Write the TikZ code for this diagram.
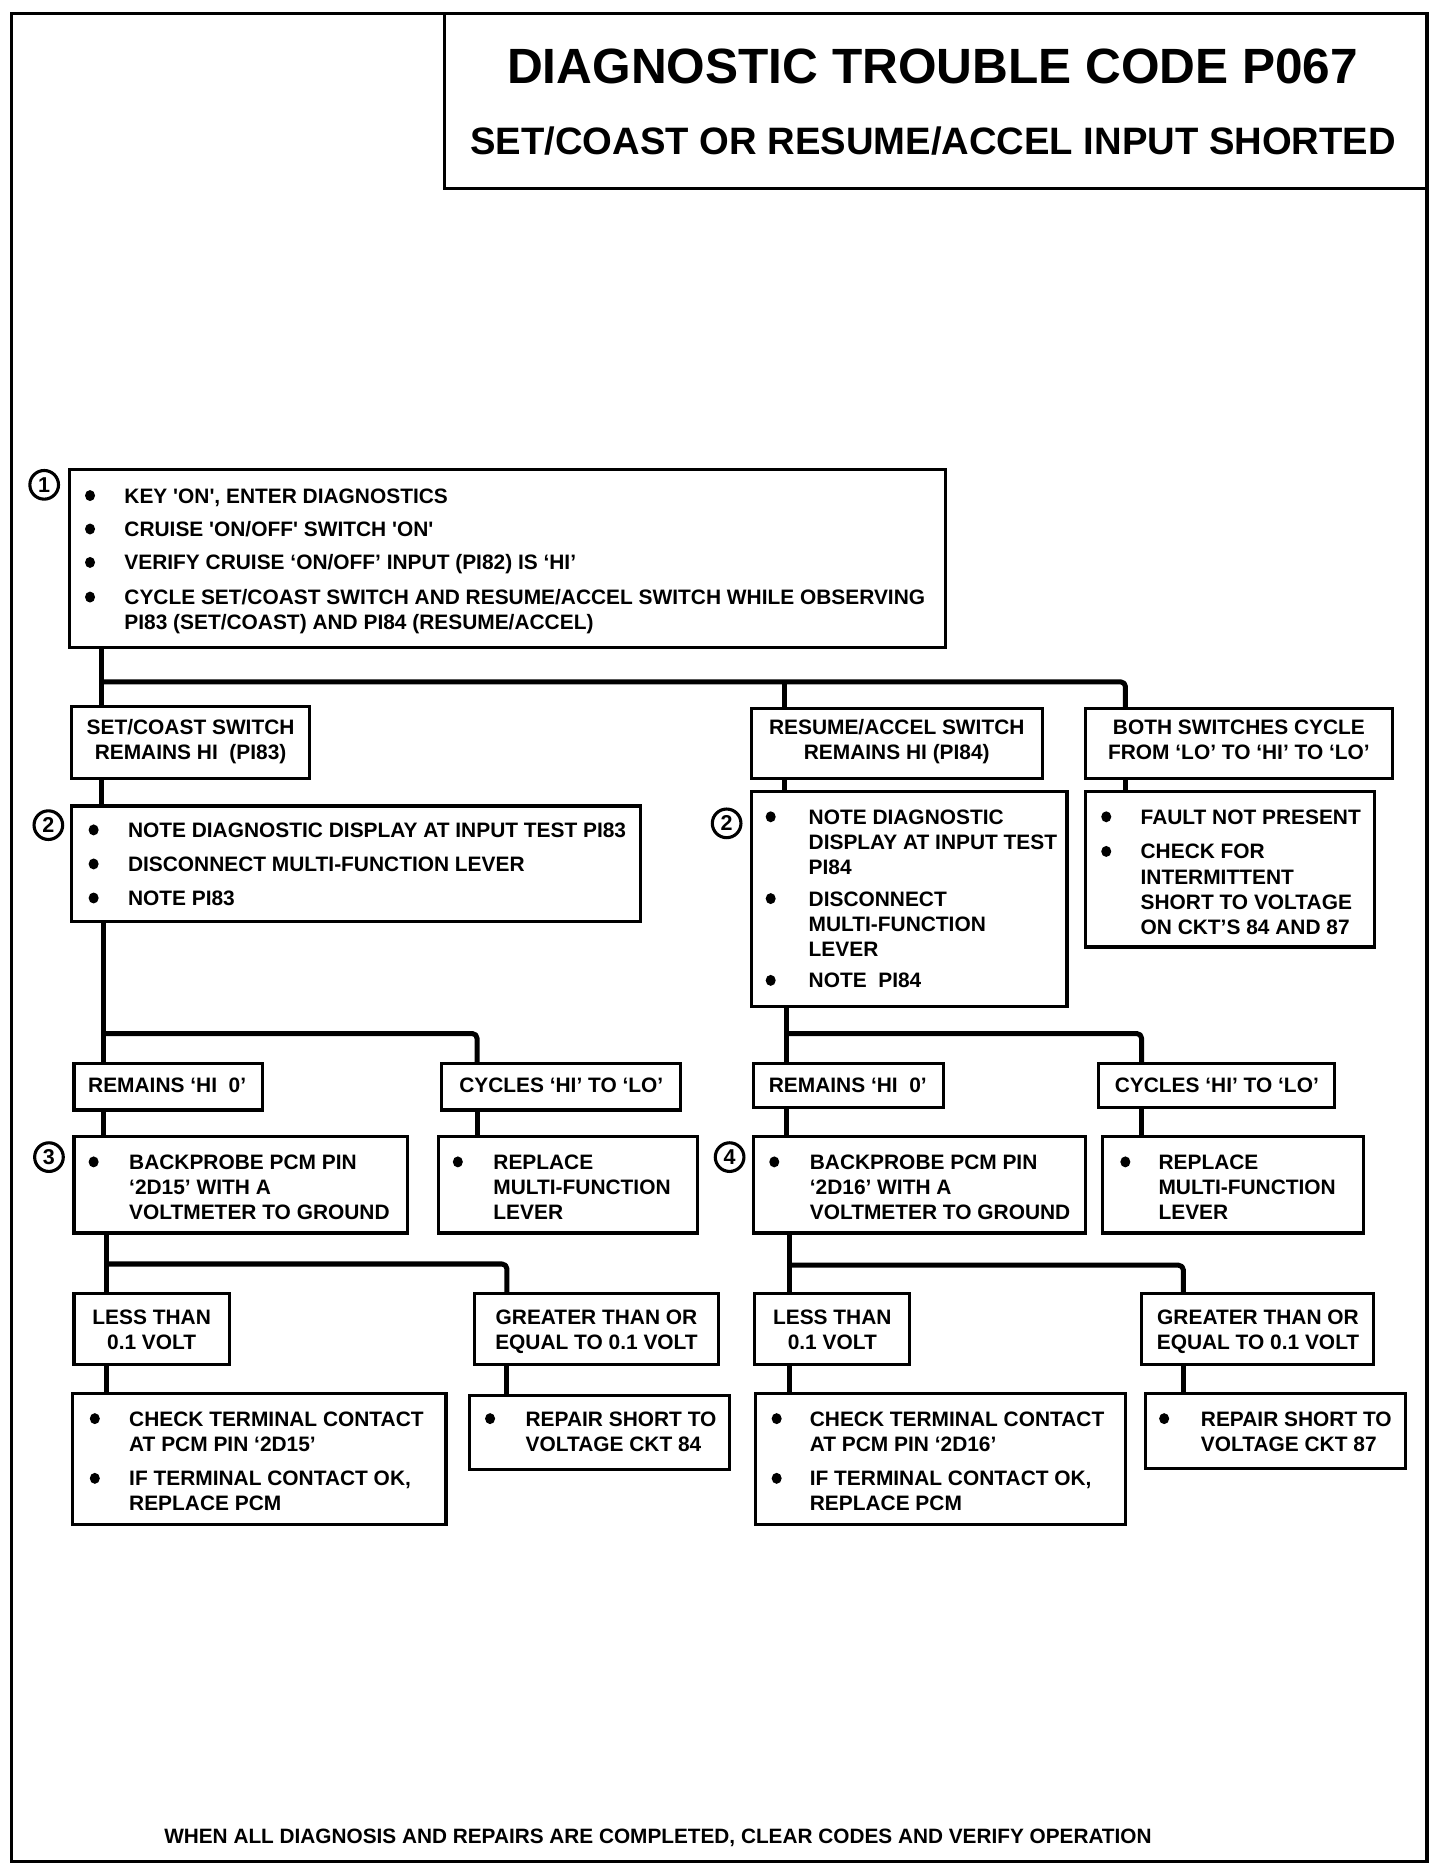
\documentclass[tikz,border=0pt]{standalone}
\usepackage{fontspec}
\setmainfont{Liberation Sans}
\newcommand\bodyfont{\bfseries\fontsize{17.5}{21}\selectfont}
\newcommand\sq{\textquotesingle}
\newcommand\bul{\tikz[baseline=0pt]\fill (3pt,6.3pt) ellipse[x radius=4.2pt, y radius=4.6pt];}
\newcommand\bx[5]{\node[box, minimum width={(#4)-(#2)}, minimum height={(#5)-(#3)}] (#1) at (#2,#3) {};}
\begin{document}
\begin{tikzpicture}[x=1pt,y=-1pt,
  box/.style={draw, line width=2.6pt, inner sep=0pt, outer sep=0pt, anchor=north west},
  conn/.style={line width=4.2pt, line join=round, rounded corners=4pt},
  frame/.style={line width=2.6pt},
  num/.style={circle, draw, line width=2.6pt, minimum size=24pt, inner sep=0pt, font=\bfseries\fontsize{18}{18}\selectfont},
  lst/.style={inner sep=0pt, anchor=base west, font=\bodyfont},
  ctr/.style={inner sep=0pt, anchor=base, font=\bodyfont},
]
\useasboundingbox (0,0) rectangle (1206,1566);
% outer frame and title
\draw[frame] (10,11) rectangle (1195,1559);
\bx{tb}{372}{11}{1195}{157.5}
\node[inner sep=0pt, anchor=base, font=\bfseries\fontsize{41.5}{41.5}\selectfont] (tt1) at (781,70) {DIAGNOSTIC TROUBLE CODE P067};
\node[inner sep=0pt, anchor=base, font=\bfseries\fontsize{32}{32}\selectfont] (tt2) at (781.5,129.5) {SET/COAST OR RESUME/ACCEL INPUT SHORTED};

% boxes
\bx{b1}{58}{393}{792}{542}
\bx{sc}{60}{592}{259.5}{652}
\bx{rs}{629}{593}{873}{652}
\bx{bo}{909}{593}{1166}{652}
\bx{b2l}{60}{675}{536.5}{772}
\bx{b2r}{629.5}{663}{893.5}{843}
\bx{fb}{909}{663}{1151}{793}
\bx{rl}{62}{890.5}{220}{929.5}
\bx{cl}{370}{890.5}{570}{929.5}
\bx{rr}{631}{890.5}{790}{927.5}
\bx{cr}{920}{890.5}{1117.5}{927.5}
\bx{b3}{62}{951.5}{341.5}{1032.5}
\bx{pl}{367.5}{951.5}{584}{1032.5}
\bx{b4}{631}{951.5}{909}{1032.5}
\bx{pr}{923.5}{951.5}{1141.5}{1032.5}
\bx{ll}{62}{1083}{192}{1143}
\bx{gl}{397}{1083}{602}{1143}
\bx{lr}{632}{1083}{762}{1143}
\bx{gr}{956}{1083}{1150}{1143}
\bx{kl}{61}{1167}{373.5}{1277}
\bx{ql}{393}{1168.5}{611}{1230.5}
\bx{kr}{633}{1167}{942.5}{1277}
\bx{qr}{959}{1167}{1177}{1230}

% step numbers
\node[num] (c1) at (37,406) {1};
\node[num] (c2l) at (40.5,691) {2};
\node[num] (c2r) at (608.5,689.5) {2};
\node[num] (c3) at (41,969) {3};
\node[num] (c4) at (611,969) {4};

% texts
\node[lst] (t1) at (71,421.3) {\begin{tabular}[t]{@{}p{33pt}@{}l@{}}
\bul & KEY \sq ON\sq, ENTER DIAGNOSTICS\\[7pt]
\bul & CRUISE \sq ON/OFF\sq\ SWITCH \sq ON\sq\\[7pt]
\bul & VERIFY CRUISE `ON/OFF' INPUT (PI82) IS `HI'\\[8pt]
\bul & CYCLE SET/COAST SWITCH AND RESUME/ACCEL SWITCH WHILE OBSERVING\\
 & PI83 (SET/COAST) AND PI84 (RESUME/ACCEL)
\end{tabular}};
\node[ctr] (tsc) at (159.6,615.3) {\begin{tabular}[t]{@{}c@{}}SET/COAST SWITCH\\REMAINS HI\ \ (PI83)\end{tabular}};
\node[ctr] (trs) at (751,615.3) {\begin{tabular}[t]{@{}c@{}}RESUME/ACCEL SWITCH\\REMAINS HI (PI84)\end{tabular}};
\node[ctr] (tbo) at (1037.5,615.3) {\begin{tabular}[t]{@{}c@{}}BOTH SWITCHES CYCLE\\FROM `LO' TO `HI' TO `LO'\end{tabular}};
\node[lst] (t2l) at (74,701.3) {\begin{tabular}[t]{@{}p{33pt}@{}l@{}}
\bul & NOTE DIAGNOSTIC DISPLAY AT INPUT TEST PI83\\[7.5pt]
\bul & DISCONNECT MULTI-FUNCTION LEVER\\[7.5pt]
\bul & NOTE PI83
\end{tabular}};
\node[lst] (t2r) at (641,690.3) {\begin{tabular}[t]{@{}p{36pt}@{}l@{}}
\bul & NOTE DIAGNOSTIC\\
 & DISPLAY AT INPUT TEST\\
 & PI84\\[5.5pt]
\bul & DISCONNECT\\
 & MULTI-FUNCTION\\
 & LEVER\\[5.5pt]
\bul & NOTE\ \ PI84
\end{tabular}};
\node[lst] (tfb) at (922,690.3) {\begin{tabular}[t]{@{}p{33pt}@{}l@{}}
\bul & FAULT NOT PRESENT\\[8pt]
\bul & CHECK FOR\\
 & INTERMITTENT\\
 & SHORT TO VOLTAGE\\
 & ON CKT'S 84 AND 87
\end{tabular}};
\node[ctr] (trl) at (140,915) {REMAINS `HI\ \ 0'};
\node[ctr] (tcl) at (470,915) {CYCLES `HI' TO `LO'};
\node[ctr] (trr) at (710,915) {REMAINS `HI\ \ 0'};
\node[ctr] (tcr) at (1019,915) {CYCLES `HI' TO `LO'};
\node[lst] (t3) at (74,979.3) {\begin{tabular}[t]{@{}p{34pt}@{}l@{}}
\bul & BACKPROBE PCM PIN\\
 & `2D15' WITH A\\
 & VOLTMETER TO GROUND
\end{tabular}};
\node[lst] (tpl) at (379,979.3) {\begin{tabular}[t]{@{}p{34pt}@{}l@{}}
\bul & REPLACE\\
 & MULTI-FUNCTION\\
 & LEVER
\end{tabular}};
\node[lst] (t4) at (644,979.3) {\begin{tabular}[t]{@{}p{34pt}@{}l@{}}
\bul & BACKPROBE PCM PIN\\
 & `2D16' WITH A\\
 & VOLTMETER TO GROUND
\end{tabular}};
\node[lst] (tpr) at (938,979.3) {\begin{tabular}[t]{@{}p{32pt}@{}l@{}}
\bul & REPLACE\\
 & MULTI-FUNCTION\\
 & LEVER
\end{tabular}};
\node[ctr] (tll) at (127,1109) {\begin{tabular}[t]{@{}c@{}}LESS THAN\\0.1 VOLT\end{tabular}};
\node[ctr] (tgl) at (499.5,1109) {\begin{tabular}[t]{@{}c@{}}GREATER THAN OR\\EQUAL TO 0.1 VOLT\end{tabular}};
\node[ctr] (tlr) at (697,1109) {\begin{tabular}[t]{@{}c@{}}LESS THAN\\0.1 VOLT\end{tabular}};
\node[ctr] (tgr) at (1053.5,1109) {\begin{tabular}[t]{@{}c@{}}GREATER THAN OR\\EQUAL TO 0.1 VOLT\end{tabular}};
\node[lst] (tkl) at (75,1194.3) {\begin{tabular}[t]{@{}p{33pt}@{}l@{}}
\bul & CHECK TERMINAL CONTACT\\
 & AT PCM PIN `2D15'\\[8pt]
\bul & IF TERMINAL CONTACT OK,\\
 & REPLACE PCM
\end{tabular}};
\node[lst] (tql) at (406,1194.3) {\begin{tabular}[t]{@{}p{34pt}@{}l@{}}
\bul & REPAIR SHORT TO\\
 & VOLTAGE CKT 84
\end{tabular}};
\node[lst] (tkr) at (646,1194.3) {\begin{tabular}[t]{@{}p{32pt}@{}l@{}}
\bul & CHECK TERMINAL CONTACT\\
 & AT PCM PIN `2D16'\\[8pt]
\bul & IF TERMINAL CONTACT OK,\\
 & REPLACE PCM
\end{tabular}};
\node[lst] (tqr) at (970.5,1194.3) {\begin{tabular}[t]{@{}p{35pt}@{}l@{}}
\bul & REPAIR SHORT TO\\
 & VOLTAGE CKT 87
\end{tabular}};
\node[inner sep=0pt, anchor=base, font=\bfseries\fontsize{17.4}{20}\selectfont] (foot) at (551,1544) {WHEN ALL DIAGNOSIS AND REPAIRS ARE COMPLETED, CLEAR CODES AND VERIFY OPERATION};

% junction coordinates
\coordinate (j1) at (85,571);
\coordinate (k2) at (657,571);
\coordinate (k1) at (942.5,571);
\coordinate (j2) at (87,865.5);
\coordinate (k3) at (399.5,865.5);
\coordinate (j4) at (659,865.5);
\coordinate (k5) at (956,865.5);
\coordinate (j3) at (89.5,1058.5);
\coordinate (k4) at (424.5,1058.5);
\coordinate (j5) at (661,1059.5);
\coordinate (k6) at (991,1059.5);

% connectors
\draw[conn] (j1 |- b1.south) -- (j1 |- sc.north);
\draw[conn] (j1) -- (k1) -- (k1 |- bo.north);
\draw[conn] (k2) -- (k2 |- rs.north);
\draw[conn] (j1 |- sc.south) -- (j1 |- b2l.north);
\draw[conn] (k2 |- rs.south) -- (k2 |- b2r.north);
\draw[conn] (k1 |- bo.south) -- (k1 |- fb.north);

\draw[conn] (j2 |- b2l.south) -- (j2 |- rl.north);
\draw[conn] (j2) -- (k3) -- (k3 |- cl.north);
\draw[conn] (j2 |- rl.south) -- (j2 |- b3.north);
\draw[conn] (k3 |- cl.south) -- (k3 |- pl.north);

\draw[conn] (j4 |- b2r.south) -- (j4 |- rr.north);
\draw[conn] (j4) -- (k5) -- (k5 |- cr.north);
\draw[conn] (j4 |- rr.south) -- (j4 |- b4.north);
\draw[conn] (k5 |- cr.south) -- (k5 |- pr.north);

\draw[conn] (j3 |- b3.south) -- (j3 |- ll.north);
\draw[conn] (j3) -- (k4) -- (k4 |- gl.north);
\draw[conn] (j3 |- ll.south) -- (j3 |- kl.north);
\draw[conn] (k4 |- gl.south) -- (k4 |- ql.north);

\draw[conn] (j5 |- b4.south) -- (j5 |- lr.north);
\draw[conn] (j5) -- (k6) -- (k6 |- gr.north);
\draw[conn] (j5 |- lr.south) -- (j5 |- kr.north);
\draw[conn] (k6 |- gr.south) -- (k6 |- qr.north);
\end{tikzpicture}
\end{document}
